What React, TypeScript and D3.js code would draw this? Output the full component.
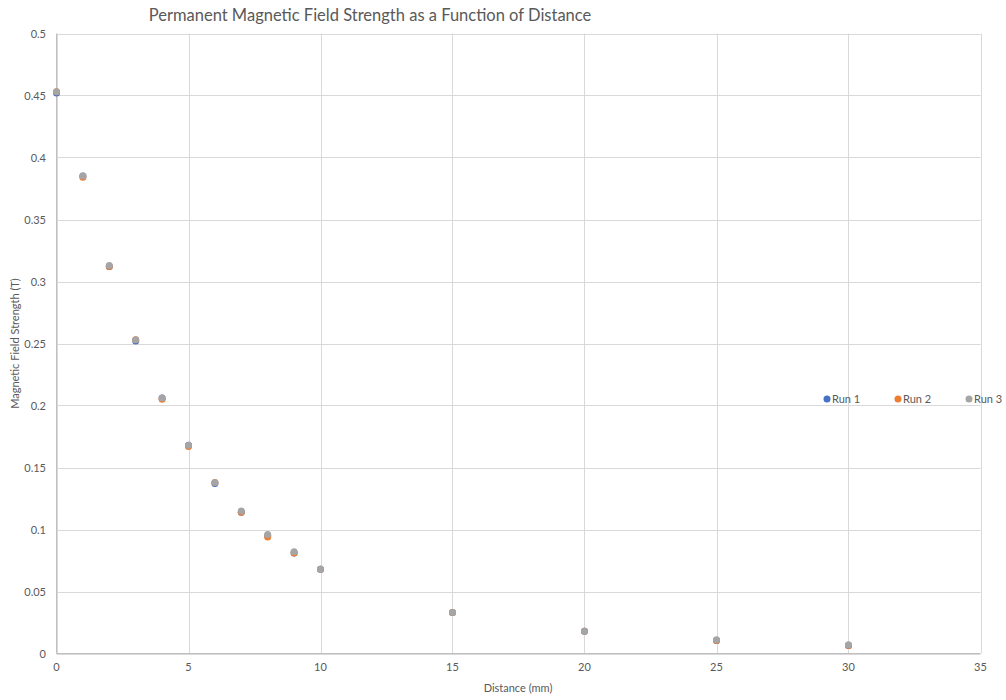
import * as React from 'react';
import * as d3 from 'd3';

const distances = [0, 1, 2, 3, 4, 5, 6, 7, 8, 9, 10, 15, 20, 25, 30];
const run1 = [0.452, 0.385, 0.312, 0.252, 0.206, 0.168, 0.137, 0.114, 0.095, 0.081, 0.068, 0.033, 0.018, 0.0105, 0.0065];
const run2 = [0.453, 0.384, 0.312, 0.253, 0.205, 0.167, 0.138, 0.114, 0.094, 0.081, 0.068, 0.033, 0.018, 0.0105, 0.0065];
const run3 = [0.453, 0.385, 0.313, 0.253, 0.206, 0.168, 0.138, 0.115, 0.096, 0.082, 0.068, 0.033, 0.018, 0.011, 0.007];
const seriesNames = ['Run 1', 'Run 2', 'Run 3'];
const seriesColors = ['#4472C4', '#ED7D31', '#A5A5A5'];
const xTicks = [0, 5, 10, 15, 20, 25, 30, 35];
const yTicks = [0, 0.05, 0.1, 0.15, 0.2, 0.25, 0.3, 0.35, 0.4, 0.45, 0.5];

const W = 1006;
const H = 700;
const font = 'Lato, "Open Sans", sans-serif';
const textColor = '#595959';

const App = () => {
  const left = 56.5;
  const right = 980.5;
  const top = 33.5;
  const bottom = 653.5;

  const x = d3.scaleLinear().domain([0, 35]).range([left, right]);
  const y = d3.scaleLinear().domain([0, 0.5]).range([bottom, top]);

  const series = [run1, run2, run3];

  return (
    <svg width={W} height={H} style={{ position: 'absolute', left: 0, top: 0, background: '#fff' }}>
      <rect x={0} y={0} width={W} height={H} fill="#fff" />
      {/* gridlines */}
      {yTicks.map((t) => (
        <line key={'gy' + t} x1={left} x2={right} y1={Math.round(y(t)) + 0.5} y2={Math.round(y(t)) + 0.5} stroke="#d9d9d9" strokeWidth={1} />
      ))}
      {xTicks.map((t) => (
        <line key={'gx' + t} x1={Math.round(x(t)) + 0.5} x2={Math.round(x(t)) + 0.5} y1={top} y2={bottom} stroke="#d9d9d9" strokeWidth={1} />
      ))}
      {/* axis lines */}
      <line x1={left} x2={right} y1={bottom} y2={bottom} stroke="#bfbfbf" />
      <line x1={left} x2={left} y1={top} y2={bottom} stroke="#bfbfbf" />

      {/* tick labels */}
      {yTicks.map((t) => (
        <text key={'ly' + t} x={46} y={y(t) + 4} textAnchor="end" fontSize={11} fill={textColor} fontFamily={font}>
          {d3.format('~g')(t)}
        </text>
      ))}
      {xTicks.map((t) => (
        <text key={'lx' + t} x={x(t)} y={671} textAnchor="middle" fontSize={11} fill={textColor} fontFamily={font}>
          {t}
        </text>
      ))}

      {/* points */}
      {series.map((vals, si) => (
        <g key={'s' + si}>
          {vals.map((v, i) => (
            <circle key={i} cx={x(distances[i])} cy={y(v)} r={3.5} fill={seriesColors[si]} />
          ))}
        </g>
      ))}

      {/* legend */}
      {seriesNames.map((n, i) => (
        <g key={'lg' + i} transform={`translate(${827 + i * 71},399)`}>
          <circle cx={0} cy={0} r={3.5} fill={seriesColors[i]} />
          <text x={5} y={4} fontSize={11} fill={textColor} fontFamily={font}>{n}</text>
        </g>
      ))}

      {/* title and axis titles */}
      <text x={370} y={21} textAnchor="middle" fontSize={16.5} fill={textColor} fontFamily={font}>
        Permanent Magnetic Field Strength as a Function of Distance
      </text>
      <text x={518} y={692} textAnchor="middle" fontSize={11} fill={textColor} fontFamily={font}>
        Distance (mm)
      </text>
      <text transform={`translate(19,${(top + bottom) / 2}) rotate(-90)`} textAnchor="middle" fontSize={11} fill={textColor} fontFamily={font}>
        Magnetic Field Strength (T)
      </text>
    </svg>
  );
};

export default App;
